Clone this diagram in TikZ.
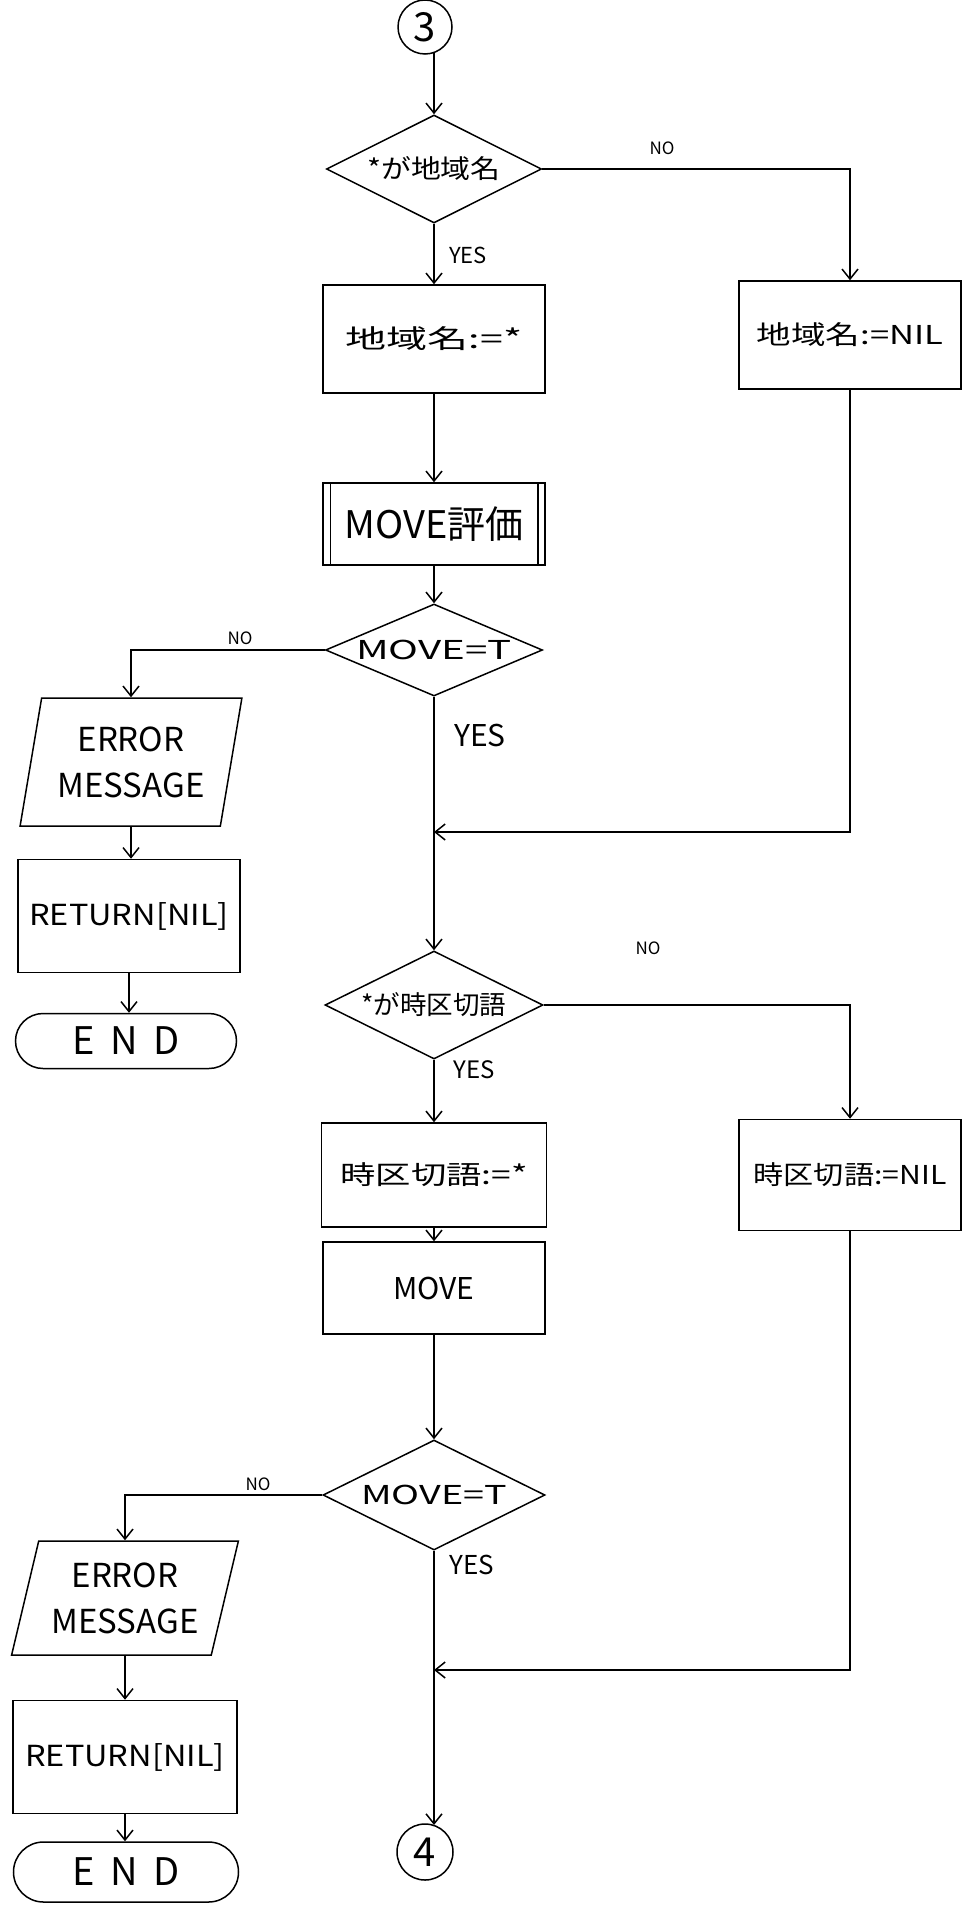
\documentclass[tikz,border=0pt]{standalone}
\usepackage{graphicx}
\usepackage{fontspec}
\setmainfont{Noto Sans CJK JP}
\usetikzlibrary{shapes.geometric,shapes.misc,arrows.meta}
\newcommand{\hw}[2]{\scalebox{#1}[1]{#2}}
\begin{document}
\begin{tikzpicture}[x=1pt,y=-1pt,line width=1.5pt,
  arr/.style={-{Straight Barb[length=10pt,width=16pt]}},
  dia/.style={diamond,draw,inner sep=0pt},
  box/.style={rectangle,draw,inner sep=0pt},
  para/.style={trapezium,draw,inner sep=0pt,trapezium stretches=true},
  term/.style={rounded rectangle,draw,inner sep=0pt},
  conn/.style={circle,draw,inner sep=0pt},
  fa/.style={font=\fontsize{26}{30}\selectfont},
  fb/.style={font=\fontsize{30}{34}\selectfont},
  fno/.style={font=\fontsize{17}{20}\selectfont\itshape}]
\useasboundingbox[fill=white] (0,0) rectangle (962,1905);

% upper part
\node[conn,minimum size=54pt,font=\fontsize{40}{44}\selectfont] (c3) at (425,27) {3};
\node[dia,minimum width=215pt,minimum height=108pt,label={[fa]center:\hw{1.15}{*が地域名}}] (d1) at (434,169) {};
\node[box,minimum width=222pt,minimum height=108pt,fa] (b1) at (434,339) {\hw{1.58}{地域名:=*}};
\node[box,minimum width=222pt,minimum height=108pt,fa] (rb1) at (850,335) {\hw{1.33}{地域名:=NIL}};
\node[box,minimum width=222pt,minimum height=82pt,font=\fontsize{38}{42}\selectfont] (sp) at (434,524) {MOVE評価};
\draw ([xshift=8pt]sp.north west) -- ([xshift=8pt]sp.south west);
\draw ([xshift=-8pt]sp.north east) -- ([xshift=-8pt]sp.south east);
\node[dia,minimum width=217pt,minimum height=92pt,label={[fa]center:\hw{1.55}{MOVE=T}}] (d2) at (434,650) {};
\node[para,trapezium left angle=76,trapezium right angle=104,minimum width=222pt,minimum height=128pt,align=center,font=\fontsize{33}{46}\selectfont] (p1) at (131,762) {ERROR\\MESSAGE};
\node[box,minimum width=222pt,minimum height=113pt,font=\fontsize{29}{32}\selectfont] (r1) at (129,916) {\hw{1.12}{RETURN[NIL]}};
\node[term,minimum width=221pt,minimum height=55pt,font=\fontsize{38}{42}\selectfont] (e1) at (126,1041) {E\hspace{16pt}N\hspace{16pt}D};
\coordinate (m1) at (434,832);

% lower part
\node[dia,minimum width=218pt,minimum height=108pt,label={[fa]center:\hw{1.02}{*が時区切語}}] (d3) at (434,1005) {};
\node[box,minimum width=225pt,minimum height=104pt,fa] (b3) at (434,1175) {\hw{1.36}{時区切語:=*}};
\node[box,minimum width=222pt,minimum height=111pt,fa] (rb2) at (850,1175) {\hw{1.16}{時区切語:=NIL}};
\node[box,minimum width=222pt,minimum height=92pt,fb] (b4) at (434,1288) {MOVE};
\node[dia,minimum width=222pt,minimum height=110pt,label={[fa]center:\hw{1.45}{MOVE=T}}] (d4) at (434,1495) {};
\node[para,trapezium left angle=72,trapezium right angle=108,minimum width=227pt,minimum height=114pt,align=center,font=\fontsize{33}{46}\selectfont] (p2) at (125,1598) {ERROR\\MESSAGE};
\node[box,minimum width=224pt,minimum height=113pt,font=\fontsize{29}{32}\selectfont] (r2) at (125,1757) {\hw{1.12}{RETURN[NIL]}};
\node[term,minimum width=225pt,minimum height=60pt,font=\fontsize{38}{42}\selectfont] (e2) at (126,1872) {E\hspace{16pt}N\hspace{16pt}D};
\coordinate (m2) at (434,1670);
\node[conn,minimum size=56pt,font=\fontsize{40}{44}\selectfont] (c4) at (425,1852) {4};

% connectors upper
\draw[arr] (d1.north |- c3.-70) -- (d1.north);
\draw[arr] (d1.south) -- (b1.north);
\draw[arr] (d1.east) -| (rb1.north);
\draw[arr] (b1.south) -- (sp.north);
\draw[arr] (sp.south) -- (d2.north);
\draw[arr] (d2.west) -| (p1.north);
\draw[arr] (p1.south) -- (p1.south |- r1.north);
\draw[arr] (r1.south) -- (r1.south |- e1.north);
\draw[arr] (d2.south) -- (d3.north);
\draw[arr] (rb1.south) |- (m1);

% connectors lower
\draw[arr] (d3.south) -- (b3.north);
\draw[arr] (d3.east) -| (rb2.north);
\draw[arr] (b3.south) -- (b4.north);
\draw[arr] (b4.south) -- (d4.north);
\draw[arr] (d4.west) -| (p2.north);
\draw[arr] (p2.south) -- (p2.south |- r2.north);
\draw[arr] (r2.south) -- (r2.south |- e2.north);
\draw[arr] (d4.south) -- (d4.south |- c4.70);
\draw[arr] (rb2.south) |- (m2);

% labels
\node[fno] (n1) at (662,148) {NO};
\node[font=\fontsize{22}{26}\selectfont] (y1) at (468,255) {YES};
\node[fno] (n2) at (240,638) {NO};
\node[fb] (y2) at (480,735) {YES};
\node[fno] (n3) at (648,948) {NO};
\node[font=\fontsize{24}{28}\selectfont] (y3) at (474,1070) {YES};
\node[fno] (n4) at (258,1484) {NO};
\node[font=\fontsize{26}{30}\selectfont] (y4) at (472,1565) {YES};
\end{tikzpicture}
\end{document}
